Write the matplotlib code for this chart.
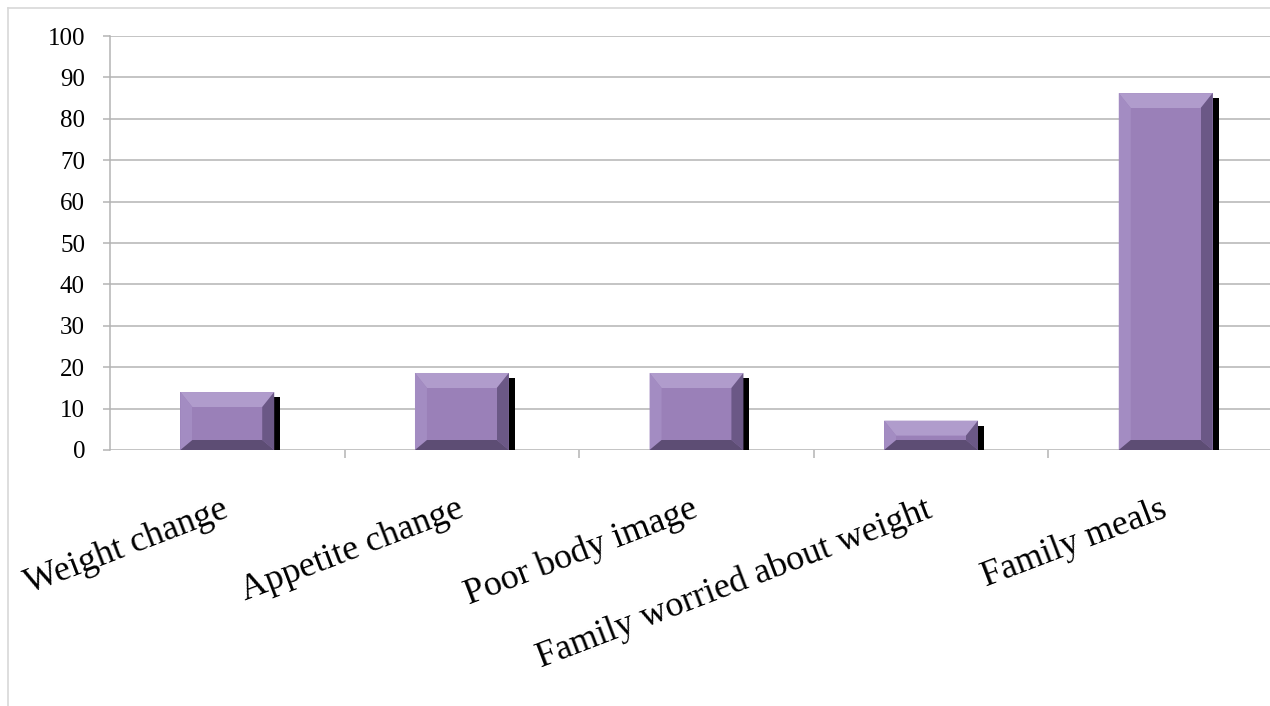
import matplotlib
matplotlib.use("Agg")
import matplotlib.pyplot as plt
from matplotlib.patches import Polygon
from matplotlib.lines import Line2D
from matplotlib.ticker import FixedLocator, NullFormatter

categories = ["Weight change", "Appetite change", "Poor body image",
              "Family worried about weight", "Family meals"]
values = [14, 18.6, 18.6, 7.1, 86.2]
y_ticks = [0, 10, 20, 30, 40, 50, 60, 70, 80, 90, 100]

W, H, DPI = 1270, 706, 100
fig = plt.figure(figsize=(W / DPI, H / DPI), dpi=DPI)
fig.patch.set_facecolor("white")

FONT = ["Liberation Serif", "DejaVu Serif"]

ax = fig.add_axes([110 / W, 1 - 450 / H, (1283 - 110) / W, (450 - 36) / H])
ax.set_xlim(-0.5, len(categories) - 0.5)
ax.set_ylim(0, 100)
ax.set_facecolor("none")

# grid and axis styling
grid_c = "#b4b4b4"
for y in y_ticks:
    ax.axhline(y, color=grid_c, lw=1.1, zorder=0)
for s in ["top", "right", "bottom"]:
    ax.spines[s].set_visible(False)
ax.spines["left"].set_color(grid_c)
ax.spines["left"].set_linewidth(1.1)

ax.set_yticks(y_ticks)
ax.set_yticklabels([str(v) for v in y_ticks], family=FONT, fontsize=18)
ax.tick_params(axis="y", length=5, width=1.1, color=grid_c, pad=13)

pos = list(range(len(categories)))
ax.set_xticks(pos)
ax.set_xticklabels(categories, family=FONT, fontsize=26, rotation=21,
                   ha="right", va="center", rotation_mode="anchor")
ax.tick_params(axis="x", which="major", length=0, pad=42)
ax.xaxis.set_minor_locator(FixedLocator([p + 0.5 for p in pos[:-1]]))
ax.xaxis.set_minor_formatter(NullFormatter())
ax.tick_params(axis="x", which="minor", length=6, width=1.1, color=grid_c)

bar_w = 0.4
bars = ax.bar(pos, values, width=bar_w, color="#9a80b8", zorder=3, linewidth=0)

fig.canvas.draw()
to_px = ax.transData.transform
to_data = ax.transData.inverted().transform

face = "#9a80b8"
top_c, left_c = "#b09ccc", "#a38cc2"
right_c, bottom_c = "#6b5886", "#5d4d74"
bt, bl, br, bb = 15, 12, 12, 10  # bevel widths in pixels
sx, sy = 6, 5                    # shadow offset in pixels

for rect in bars:
    x0, y0 = to_px((rect.get_x(), 0))
    x1, y1 = to_px((rect.get_x() + rect.get_width(), rect.get_height()))
    # drop shadow
    sh = to_data([(x0 + sx, y0), (x1 + sx, y0), (x1 + sx, y1 - sy), (x0 + sx, y1 - sy)])
    ax.add_patch(Polygon(sh, closed=True, fc="black", ec="none", zorder=2))
    ix0, ix1 = x0 + bl, x1 - br
    iy0, iy1 = y0 + bb, y1 - bt
    if iy1 < iy0:
        mid = (y0 + y1) / 2
        iy0 = iy1 = mid
    polys = [
        ([(x0, y1), (x1, y1), (ix1, iy1), (ix0, iy1)], top_c),
        ([(x0, y0), (x0, y1), (ix0, iy1), (ix0, iy0)], left_c),
        ([(x1, y0), (x1, y1), (ix1, iy1), (ix1, iy0)], right_c),
        ([(x0, y0), (x1, y0), (ix1, iy0), (ix0, iy0)], bottom_c),
        ([(ix0, iy0), (ix1, iy0), (ix1, iy1), (ix0, iy1)], face),
    ]
    for pts, c in polys:
        ax.add_patch(Polygon(to_data(pts), closed=True, fc=c, ec="none", zorder=4))

# frame lines along the top and left edge of the chart area
border = "#d8d8d8"
fig.add_artist(Line2D([7.5 / W, 7.5 / W], [0, 1 - 7.5 / H], color=border, lw=1.2,
                      transform=fig.transFigure))
fig.add_artist(Line2D([7.5 / W, 1], [1 - 7.5 / H, 1 - 7.5 / H], color=border, lw=1.2,
                      transform=fig.transFigure))

fig.savefig("out.png", dpi=DPI)
